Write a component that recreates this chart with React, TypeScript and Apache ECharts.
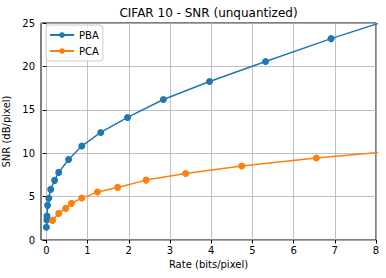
import React, { useEffect, useRef } from "react";
import * as echarts from "echarts";

const pbaRate = [0.0, 0.01, 0.015, 0.03, 0.06, 0.105, 0.2, 0.3, 0.54, 0.86, 1.32, 1.97, 2.84, 3.96, 5.32, 6.91, 9.0];
const pbaSnr = [1.46, 2.3, 2.76, 3.99, 4.8, 5.83, 6.87, 7.79, 9.28, 10.82, 12.39, 14.12, 16.19, 18.26, 20.56, 23.2, 26.4];
const pcaRate = [0.15, 0.3, 0.47, 0.61, 0.86, 1.24, 1.73, 2.42, 3.38, 4.74, 6.55, 9.2];
const pcaSnr = [2.26, 3.07, 3.64, 4.22, 4.83, 5.52, 6.06, 6.9, 7.67, 8.52, 9.44, 10.55];
const xTicks = [0, 1, 2, 3, 4, 5, 6, 7, 8];
const titleText = "CIFAR 10 - SNR (unquantized)";

export default function App() {
  const ref = useRef<HTMLDivElement>(null);
  useEffect(() => {
    const chart = echarts.init(ref.current!, null, { renderer: "svg" });
    const font = "DejaVu Sans";
    chart.setOption({
      animation: false,
      textStyle: { fontFamily: font },
      graphic: [
        {
          type: "text",
          x: 208.5,
          y: 13,
          style: {
            text: titleText,
            textAlign: "center",
            textVerticalAlign: "middle",
            fontFamily: font,
            fontSize: 12,
            fill: "#000",
          },
        },
      ],
      legend: {
        orient: "vertical",
        left: 46,
        top: 25,
        itemWidth: 24,
        itemHeight: 7,
        itemGap: 4,
        padding: [4, 4, 4, 3],
        borderColor: "#ccc",
        borderWidth: 1,
        borderRadius: 3,
        backgroundColor: "rgba(255,255,255,0.8)",
        textStyle: { fontFamily: font, fontSize: 10, color: "#000", lineHeight: 12 },
        data: ["PBA", "PCA"],
      },
      grid: {
        left: 41,
        top: 23,
        right: 10,
        bottom: 38,
        show: true,
        borderColor: "#000",
        borderWidth: 1,
        outerBoundsMode: "none",
      },
      xAxis: {
        type: "value",
        min: -0.13,
        max: 8,
        name: "Rate (bits/pixel)",
        nameLocation: "middle",
        nameGap: 19,
        nameTextStyle: { fontFamily: font, fontSize: 10, color: "#000" },
        axisLine: { show: false },
        axisTick: { show: true, length: 3.5, customValues: xTicks, lineStyle: { color: "#000" } },
        axisLabel: { customValues: xTicks, fontFamily: font, fontSize: 10, color: "#000", margin: 5 },
        splitLine: { show: true, lineStyle: { color: "#b0b0b0", width: 0.8 } },
      },
      yAxis: {
        type: "value",
        min: 0,
        max: 25,
        interval: 5,
        name: "SNR (dB/pixel)",
        nameLocation: "middle",
        nameGap: 27,
        nameTextStyle: { fontFamily: font, fontSize: 10, color: "#000" },
        axisLine: { show: false },
        axisTick: { show: true, length: 3.5, lineStyle: { color: "#000" } },
        axisLabel: { fontFamily: font, fontSize: 10, color: "#000", margin: 6 },
        splitLine: { show: true, lineStyle: { color: "#b0b0b0", width: 0.8 } },
      },
      series: [
        {
          name: "PBA",
          type: "line",
          data: pbaRate.map((r, i) => [r, pbaSnr[i]]),
          symbol: "circle",
          symbolSize: 7,
          showAllSymbol: true,
          clip: true,
          itemStyle: { color: "#1f77b4" },
          lineStyle: { color: "#1f77b4", width: 1.5 },
        },
        {
          name: "PCA",
          type: "line",
          data: pcaRate.map((r, i) => [r, pcaSnr[i]]),
          symbol: "circle",
          symbolSize: 7,
          showAllSymbol: true,
          clip: true,
          itemStyle: { color: "#ff7f0e" },
          lineStyle: { color: "#ff7f0e", width: 1.5 },
        },
      ],
    });
    return () => chart.dispose();
  }, []);
  return <div ref={ref} style={{ width: 386, height: 278, position: "absolute", left: 0, top: 0 }} />;
}
